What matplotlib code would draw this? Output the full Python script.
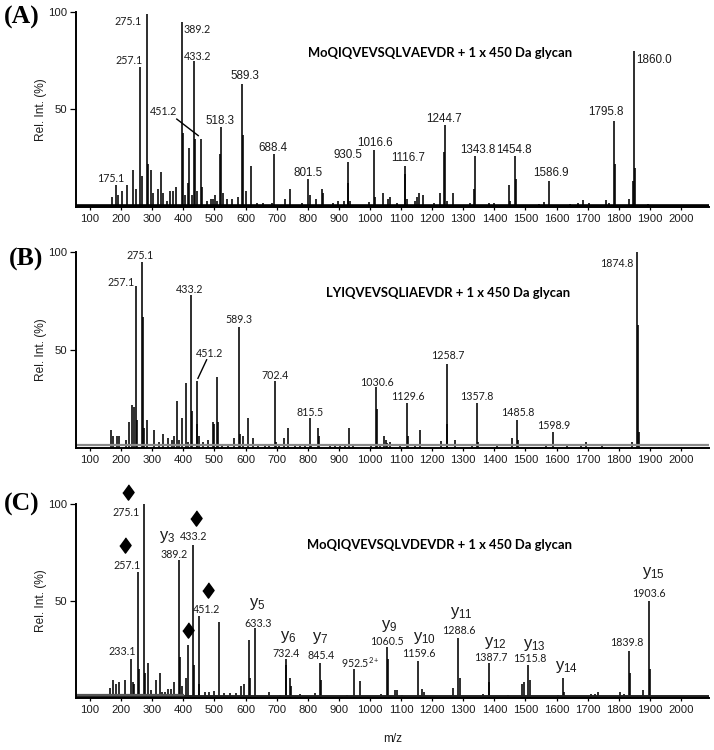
import matplotlib
matplotlib.use('Agg')
import matplotlib.pyplot as plt

plt.rcParams['font.family'] = ['Liberation Sans', 'DejaVu Sans']
plt.rcParams['mathtext.fontset'] = 'custom'
plt.rcParams['mathtext.rm'] = 'Lato'
plt.rcParams['mathtext.it'] = 'Lato'

# spectrum A
a_mz = [172, 183, 191, 202, 218, 238, 248, 262, 266, 282, 286, 295, 304, 318, 329, 334, 347, 357, 366, 377,
        395, 398, 407, 414, 419, 427, 435, 438, 445, 456, 459, 475, 489, 497, 503, 509, 519, 521, 527, 539,
        555, 575, 590, 593, 602, 619, 636, 657, 684, 690, 727, 744, 781, 802, 807, 827, 845, 848, 882, 898,
        915, 929, 931, 936, 996, 1014, 1017, 1041, 1057, 1066, 1087, 1112, 1114, 1119, 1146, 1151, 1157, 1170,
        1205, 1224, 1239, 1241, 1248, 1267, 1321, 1336, 1339, 1382, 1398, 1448, 1451, 1465, 1468, 1543, 1560,
        1577, 1644, 1668, 1685, 1703, 1760, 1768, 1786, 1789, 1833, 1846, 1850, 1853, 1893, 1912, 2020]
a_int = [5, 11, 6, 8, 11, 19, 9, 72, 16, 99, 22, 19, 7, 9, 18, 7, 3, 8, 8, 10,
         95, 38, 6, 12, 30, 6, 75, 35, 8, 35, 10, 3, 4, 4, 6, 3, 27, 41, 7, 4,
         4, 5, 63, 37, 8, 21, 2, 2, 2, 27, 4, 9, 2, 14, 6, 4, 9, 7, 2, 3,
         3, 12, 23, 3, 2.5, 29, 5, 7, 4, 5, 2, 17, 21, 4, 3, 5, 7, 6,
         2, 7, 28, 42, 3, 7, 2, 9, 26, 2, 2, 11, 3, 26, 14, 1.5, 2.5,
         13, 1.5, 2, 3.5, 2, 3.5, 2, 44, 22, 4, 13, 80, 20, 1.5, 1, 0.5]

# spectrum B
b_mz = [168, 175, 188, 192, 216, 226, 235, 243, 249, 252, 266, 270, 275, 283, 305, 322, 335, 350, 365, 369,
        381, 386, 397, 408, 414, 425, 428, 443, 445, 449, 462, 479, 495, 499, 509, 512, 523, 545, 564, 580,
        583, 592, 607, 624, 641, 663, 677, 694, 698, 709, 724, 738, 759, 775, 791, 807, 812, 834, 837, 872,
        887, 904, 920, 934, 947, 1004, 1020, 1022, 1031, 1045, 1050, 1055, 1064, 1098, 1118, 1121, 1145, 1162,
        1230, 1247, 1249, 1275, 1328, 1345, 1348, 1409, 1456, 1473, 1476, 1567, 1587, 1634, 1679, 1695, 1746,
        1843, 1860, 1863, 1866, 1904, 1928]
b_int = [9, 6, 6, 6, 4, 13, 22, 21, 83, 14, 95, 67, 10, 14, 9, 3, 7, 5, 4, 6,
         24, 4, 15, 33, 3, 78, 19, 34, 12, 6, 3, 4, 13, 12, 36, 13, 2, 2, 5, 62,
         7, 6, 15, 5, 2, 2, 2, 34, 3, 2, 5, 10, 2, 2, 2, 15, 2, 10, 6, 1,
         2, 1, 2, 10, 1, 1, 31, 20, 2, 6, 4, 2.5, 3, 2, 23, 6, 2, 9,
         3.5, 43, 12, 4, 1, 23, 3, 1, 5, 14, 4, 2, 8, 1, 1.5, 3, 1.5,
         3, 100, 63, 8, 0.5, 0.5]

# spectrum C
c_mz = [155, 165, 174, 183, 193, 213, 232, 237, 241, 255, 258, 275, 278, 288, 296, 311, 325, 330, 341, 352,
        359, 371, 387, 390, 397, 408, 414, 431, 433, 449, 452, 470, 484, 499, 516, 532, 550, 568, 584, 596,
        612, 615, 632, 652, 677, 710, 729, 731, 742, 745, 775, 794, 823, 841, 844, 882, 909, 927, 948, 969,
        993, 1037, 1056, 1059, 1082, 1087, 1103, 1155, 1168, 1173, 1202, 1266, 1284, 1288, 1364, 1382, 1384,
        1443, 1462, 1490, 1494, 1509, 1513, 1605, 1622, 1625, 1712, 1722, 1732, 1787, 1805, 1816, 1832, 1835,
        1861, 1879, 1896, 1899, 1939, 1957]
c_int = [1.5, 5, 9, 7, 8, 9, 20, 8, 7, 65, 15, 100, 13, 18, 4, 9, 13, 3, 3, 4.5,
         4.5, 8, 71, 21, 6, 10, 27, 79, 17, 42, 7, 3, 3, 3.5, 39, 2.5, 2.5, 2.5, 6, 7,
         30, 10, 36, 1, 3, 1.5, 20, 17, 10, 6, 2, 1, 2.5, 18, 9, 1, 1, 1.5, 15, 8.5,
         1, 2, 26, 20, 4, 4, 1.5, 19, 4.5, 3, 1, 5, 31, 10, 2, 18, 8,
         1.5, 1, 7, 8, 17, 9, 1.5, 10, 3, 2, 2, 3, 1, 3, 2, 24, 13,
         1, 4, 50, 15, 1, 1]

titles = ['MoQIQVEVSQLVAEVDR + 1 x 450 Da glycan',
          'LYIQVEVSQLIAEVDR + 1 x 450 Da glycan',
          'MoQIQVEVSQLVDEVDR + 1 x 450 Da glycan']

# labels: text, m/z position, height position
a_labels = [('175.1', 166, 14.5), ('257.1', 226, 75), ('275.1', 223, 95), ('389.2', 446, 91),
            ('433.2', 446, 77), ('451.2', 338, 49)]
a_labels_big = [('518.3', 518, 44), ('589.3', 597, 67), ('688.4', 689, 30), ('801.5', 801, 17.5),
                ('930.5', 930, 26.5), ('1016.6', 1017, 32.5), ('1116.7', 1122, 25), ('1244.7', 1237, 45),
                ('1343.8', 1346, 29), ('1454.8', 1462, 29), ('1586.9', 1582, 17.5), ('1795.8', 1760, 48.5),
                ('1860.0', 1912, 75.5)]
b_labels = [('257.1', 200, 84.6), ('275.1', 262, 98.6), ('433.2', 421, 81), ('451.2', 485, 48),
            ('589.3', 579, 65.5), ('702.4', 696, 37), ('815.5', 807, 18), ('1030.6', 1021, 33.6),
            ('1129.6', 1121, 26), ('1258.7', 1250, 47), ('1357.8', 1344, 26), ('1485.8', 1475, 18),
            ('1598.9', 1590, 11.4), ('1874.8', 1794, 94.4)]
c_labels = [('233.1', 202, 24), ('257.1', 218, 68.5), ('275.1', 216, 95.4), ('389.2', 370, 74),
            ('433.2', 432, 83), ('451.2', 476, 45.7), ('633.3', 639, 38.5), ('732.4', 729, 23),
            ('845.4', 842, 21.6), ('952.5$^{2+}$', 968, 18), ('1060.5', 1055, 29), ('1159.6', 1157, 23),
            ('1288.6', 1285, 34.6), ('1387.7', 1387, 20.5), ('1515.8', 1513, 20), ('1839.8', 1825, 28.6),
            ('1903.6', 1897, 54)]
y_ions = [('3', 349, 83), ('5', 637, 48.6), ('6', 737, 31.5), ('7', 840, 31), ('9', 1062, 36.8),
          ('10', 1176, 31), ('11', 1294, 43.5), ('12', 1403, 28), ('13', 1530, 27.4), ('14', 1631, 16),
          ('15', 1910, 64.5)]
diamond_mz = [221, 213, 440, 478, 415]
diamond_h = [106, 79, 93, 55.6, 35]

x_ticks = list(range(100, 2001, 100))
ink = '#1c1c1c'


def make_axes(top, zero):
    ax = fig.add_axes([76 / 714, 1 - zero / 750, 633 / 714, (zero - top) / 750])
    ax.set_xlim(55, 2090)
    ax.set_ylim(0, 100)
    ax.spines['top'].set_visible(False)
    ax.spines['right'].set_visible(False)
    ax.spines['left'].set_linewidth(1.4)
    ax.spines['bottom'].set_linewidth(1.4)
    ax.set_xticks(x_ticks)
    ax.set_yticks([50, 100])
    ax.tick_params(axis='x', length=2.5, width=0.9, pad=2.5, labelsize=8.2, labelcolor=ink)
    ax.tick_params(axis='y', length=4, width=0.9, pad=2, labelsize=8.2, labelcolor=ink)
    ax.set_ylabel('Rel. Int. (%)', fontsize=8.6, color=ink)
    ax.yaxis.set_label_coords(-29 / 633, 0.5)
    return ax


def put_labels(ax, labels, font, size):
    for text, x, y in labels:
        ax.text(x, y, text, family=font, fontsize=size, color=ink, ha='center', va='center', clip_on=False)


if __name__ == '__main__':
    fig = plt.figure(figsize=(7.14, 7.5), dpi=100)

    ax_a = make_axes(12, 206.7)
    ax_b = make_axes(252.3, 447.7)
    ax_c = make_axes(504, 697.7)

    for ax, mz, inten in [(ax_a, a_mz, a_int), (ax_b, b_mz, b_int), (ax_c, c_mz, c_int)]:
        ax.vlines(mz, 0, inten, color='black', linewidth=1.15)

    # thick noisy floor under the peaks
    ax_a.axhline(1.0, color='black', linewidth=1.9)
    ax_b.axhline(1.6, color='#8a8a8a', linewidth=1.6)
    ax_c.axhline(1.0, color='#222222', linewidth=2.1)
    ax_c.plot([60, 400], [1.6, 1.6], color='#555555', linewidth=1.6)

    put_labels(ax_a, a_labels, 'Lato', 7.7)
    put_labels(ax_a, a_labels_big, 'Liberation Sans', 8.4)
    put_labels(ax_b, b_labels, 'Lato', 7.7)
    put_labels(ax_c, c_labels, 'Lato', 7.7)

    for ion, x, y in y_ions:
        ax_c.text(x, y, '$\\mathregular{y_{%s}}$' % ion, fontsize=12, color=ink, ha='center', va='center', clip_on=False)

    ax_a.plot([379, 448], [45, 36.5], color='black', linewidth=1.0)
    ax_b.plot([475, 447], [45, 35.5], color='black', linewidth=1.0)

    diamond = [(0, 1), (0.73, 0), (0, -1), (-0.73, 0)]
    ax_c.plot(diamond_mz, diamond_h, linestyle='none', marker=diamond, markersize=11, color='black', clip_on=False)

    for ax, title, x in zip([ax_a, ax_b, ax_c], titles, [1224, 1250, 1224]):
        ax.text(x, 79, title, family='Lato', fontweight='bold', fontsize=9.4, color='black', ha='center', va='center')

    ax_c.text(1073, -21.4, 'm/z', fontsize=8.5, color=ink, ha='center', va='center', clip_on=False)

    for letter, x, y in [('(A)', 22, 17), ('(B)', 26, 259), ('(C)', 22, 504)]:
        fig.text(x / 714, 1 - y / 750, letter, family='Liberation Serif', fontweight='bold', fontsize=18.5,
                 color='black', ha='center', va='center')

    fig.savefig('out.png', dpi=100)
